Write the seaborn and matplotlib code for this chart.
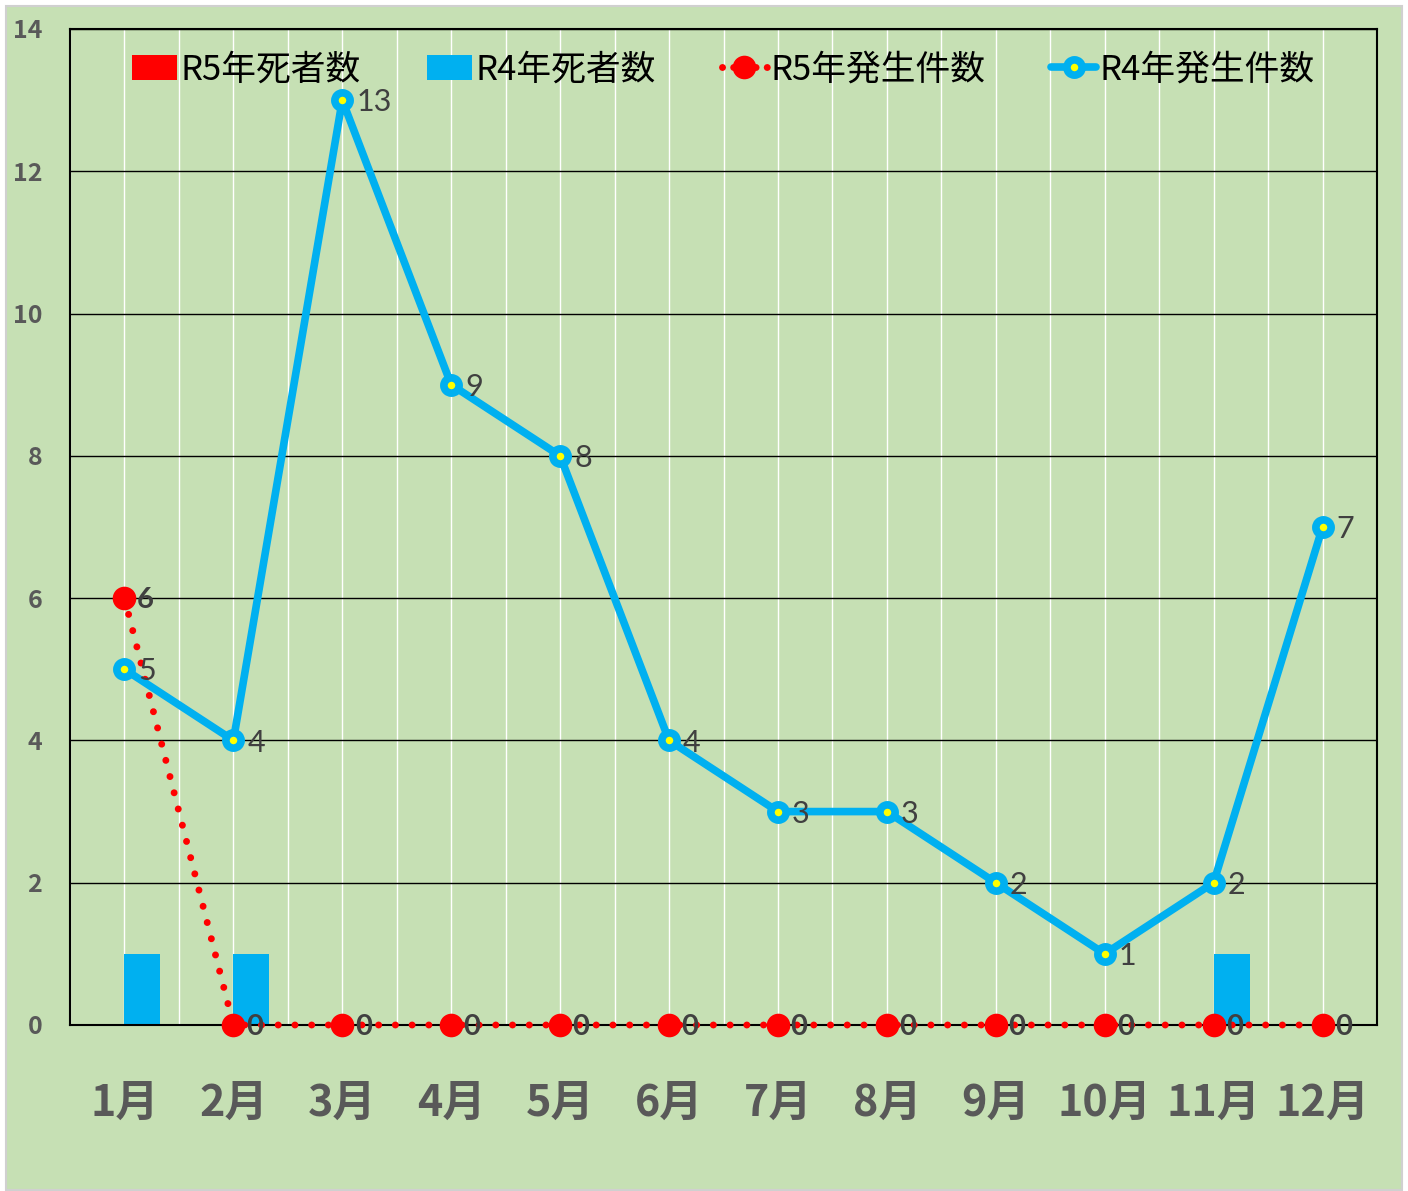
import numpy as np
import pandas as pd
import matplotlib
matplotlib.use("Agg")
import matplotlib.pyplot as plt
from matplotlib.lines import Line2D
from matplotlib.patches import Patch, Rectangle
import seaborn as sns

months = ['1月', '2月', '3月', '4月', '5月', '6月', '7月', '8月', '9月', '10月', '11月', '12月']
r5_deaths = [0, 0, 0, 0, 0, 0, 0, 0, 0, 0, 0, 0]
r4_deaths = [1, 1, 0, 0, 0, 0, 0, 0, 0, 0, 1, 0]
r5_cases = [6, 0, 0, 0, 0, 0, 0, 0, 0, 0, 0, 0]
r4_cases = [5, 4, 13, 9, 8, 4, 3, 3, 2, 1, 2, 7]
y_ticks = [0, 2, 4, 6, 8, 10, 12, 14]

lbl_r5d, lbl_r4d, lbl_r5c, lbl_r4c = 'R5年死者数', 'R4年死者数', 'R5年発生件数', 'R4年発生件数'

RED = '#FF0000'
BLUE = '#00B0F0'
GREEN = '#C6E0B4'
GRAY = '#595959'
LBL = '#404040'

sns.set_theme(style='white')
plt.rcParams['font.family'] = ['Noto Sans CJK JP', 'DejaVu Sans']

fig = plt.figure(figsize=(14.08, 11.91), dpi=100)
fig.patch.set_facecolor('white')
fig.patches.append(Rectangle((6 / 1408, 1 / 1191), 1396 / 1408, 1184 / 1191,
                             transform=fig.transFigure, facecolor=GREEN,
                             edgecolor='#D0D0D0', linewidth=1.5, zorder=-10))
ax = fig.add_axes([70 / 1408, (1191 - 1025) / 1191, (1377 - 70) / 1408, (1025 - 29) / 1191])
ax.set_facecolor(GREEN)

df = pd.DataFrame({
    'month': months * 2,
    'series': [lbl_r5d] * 12 + [lbl_r4d] * 12,
    'value': r5_deaths + r4_deaths,
})
sns.barplot(data=df, x='month', y='value', hue='series', hue_order=[lbl_r5d, lbl_r4d],
            order=months, palette=[RED, BLUE], width=0.66, saturation=1,
            legend=False, ax=ax, zorder=2, linewidth=0)

xpos = np.arange(len(months))
sns.lineplot(x=xpos, y=r5_cases, ax=ax, color=RED, linewidth=5,
             linestyle=(0, (0.01, 2.4)), dash_capstyle='round',
             marker='o', markersize=17, markerfacecolor=RED, markeredgecolor=RED,
             markeredgewidth=0, zorder=4, legend=False, clip_on=False)
sns.lineplot(x=xpos, y=r4_cases, ax=ax, color=BLUE, linewidth=5.5,
             marker='o', markersize=11, markerfacecolor='#FFFF00', markeredgecolor=BLUE,
             markeredgewidth=5.5, zorder=5, legend=False, clip_on=False)

for x, v in zip(xpos, r5_cases):
    ax.annotate(str(v), (x, v), xytext=(9, -1.5), textcoords='offset points',
                ha='left', va='center', fontsize=21, color=LBL, fontweight='bold',
                family=['Lato', 'DejaVu Sans'], zorder=6, annotation_clip=False)
for x, v in zip(xpos, r4_cases):
    ax.annotate(str(v), (x, v), xytext=(10, -1.5), textcoords='offset points',
                ha='left', va='center', fontsize=22, color=LBL,
                family=['Lato', 'DejaVu Sans'], zorder=6, annotation_clip=False)

ax.set_xlim(-0.5, len(months) - 0.5)
ax.set_ylim(0, 14)
ax.set_yticks(y_ticks)
ax.set_yticklabels([str(t) for t in y_ticks], fontsize=18, fontweight='bold', color=GRAY)
ax.set_xticks(xpos)
ax.set_xticklabels(months, fontsize=31, fontweight='bold', color=GRAY)
ax.set_xticks(np.arange(-0.5, len(months), 1), minor=True)
ax.tick_params(axis='x', which='major', length=0, pad=40)
ax.tick_params(axis='x', which='minor', length=10, width=1, color='black', direction='out')
ax.tick_params(axis='y', which='both', length=0, pad=20)
ax.set_xlabel('')
ax.set_ylabel('')

ax.set_axisbelow(True)
ax.grid(axis='x', which='both', color='white', linewidth=1)
ax.grid(axis='y', which='major', color='black', linewidth=1)
for s in ax.spines.values():
    s.set_color('black')
    s.set_linewidth(1.5)

handles = [
    Patch(facecolor=RED, edgecolor='none'),
    Patch(facecolor=BLUE, edgecolor='none'),
    Line2D([], [], color=RED, linewidth=5, linestyle=(0, (0.01, 1.6)), dash_capstyle='round',
           marker='o', markersize=17, markerfacecolor=RED, markeredgewidth=0),
    Line2D([], [], color=BLUE, linewidth=5.5, marker='o', markersize=11,
           markerfacecolor='#FFFF00', markeredgecolor=BLUE, markeredgewidth=5.5),
]
ax.legend(handles, [lbl_r5d, lbl_r4d, lbl_r5c, lbl_r4c], loc='center',
          bbox_to_anchor=(0.5, 1 - 41 / 996), ncol=4, frameon=False, fontsize=25,
          handlelength=1.3, handletextpad=0.1, columnspacing=1.9, labelcolor='black')

fig.savefig('out.png', dpi=100, facecolor=fig.get_facecolor())
